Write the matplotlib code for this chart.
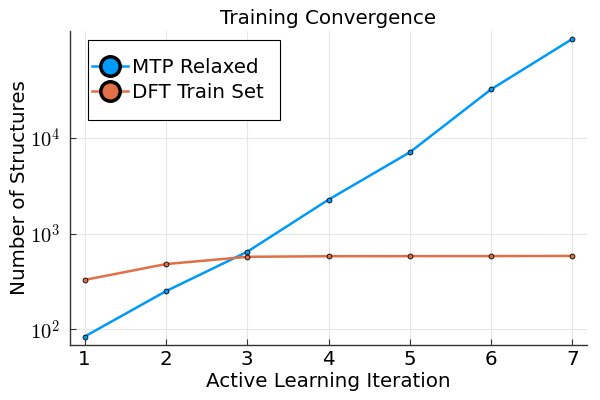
import matplotlib
matplotlib.use("Agg")
import matplotlib.pyplot as plt
from matplotlib.lines import Line2D
from matplotlib.patches import Rectangle

plt.rcParams['mathtext.fontset'] = 'cm'

iterations = [1, 2, 3, 4, 5, 6, 7]
mtp_relaxed = [84, 250, 645, 2260, 7060, 32100, 108000]
dft_train = [328, 480, 572, 580, 581, 582, 584]

blue = '#009AFA'
orange = '#E26F46'
fs = 14.3

fig = plt.figure(figsize=(6, 4), dpi=100)
ax = fig.add_axes([70 / 600, 55 / 400, 517 / 600, 314 / 400])

ax.plot(iterations, mtp_relaxed, color=blue, lw=1.8, marker='o', ms=3.5,
        mfc=blue, mec='black', mew=0.6, label='MTP Relaxed', zorder=3)
ax.plot(iterations, dft_train, color=orange, lw=1.8, marker='o', ms=3.5,
        mfc=orange, mec='black', mew=0.6, label='DFT Train Set', zorder=3)

ax.set_yscale('log')
ax.set_xlim(0.82, 7.18)
ax.set_ylim(10 ** 1.836, 10 ** 5.116)
ax.set_xticks(iterations)
ax.set_yticks([1e2, 1e3, 1e4])
ax.set_yticklabels([r'$10^{2}$', r'$10^{3}$', r'$10^{4}$'])
ax.yaxis.set_minor_locator(matplotlib.ticker.NullLocator())
ax.tick_params(direction='in', length=4, width=0.8, labelsize=fs, color='#333333')
ax.tick_params(axis='y', pad=7, labelsize=14.8)

ax.grid(True, color='#e6e6e6', lw=0.8)
ax.set_axisbelow(True)
for s in ['top', 'right']:
    ax.spines[s].set_visible(False)
for s in ['left', 'bottom']:
    ax.spines[s].set_color('#333333')
    ax.spines[s].set_linewidth(1.0)

ax.set_xlabel('Active Learning Iteration', fontsize=fs, labelpad=2)
ax.set_ylabel('Number of Structures', fontsize=fs, labelpad=1)
ax.set_title('Training Convergence', fontsize=fs, pad=5)

# legend box drawn separately so the padding can differ per side
ax.add_patch(Rectangle((0.0348, 0.7166), 0.371, 0.2544, transform=ax.transAxes,
                       facecolor='white', edgecolor='black', lw=0.8, zorder=4))
handles = [
    Line2D([0], [0], color=blue, lw=1.8, marker='o', ms=14, mfc=blue, mec='black', mew=2.5),
    Line2D([0], [0], color=orange, lw=1.8, marker='o', ms=14, mfc=orange, mec='black', mew=2.5),
]
leg = ax.legend(handles, ['MTP Relaxed', 'DFT Train Set'], loc='center',
                bbox_to_anchor=(0.209, 0.844), fontsize=fs, frameon=False,
                handlelength=1.8, handletextpad=0.2, borderpad=0.2,
                labelspacing=0.3, borderaxespad=0)
leg.set_zorder(5)

fig.savefig('out.png', dpi=100)
